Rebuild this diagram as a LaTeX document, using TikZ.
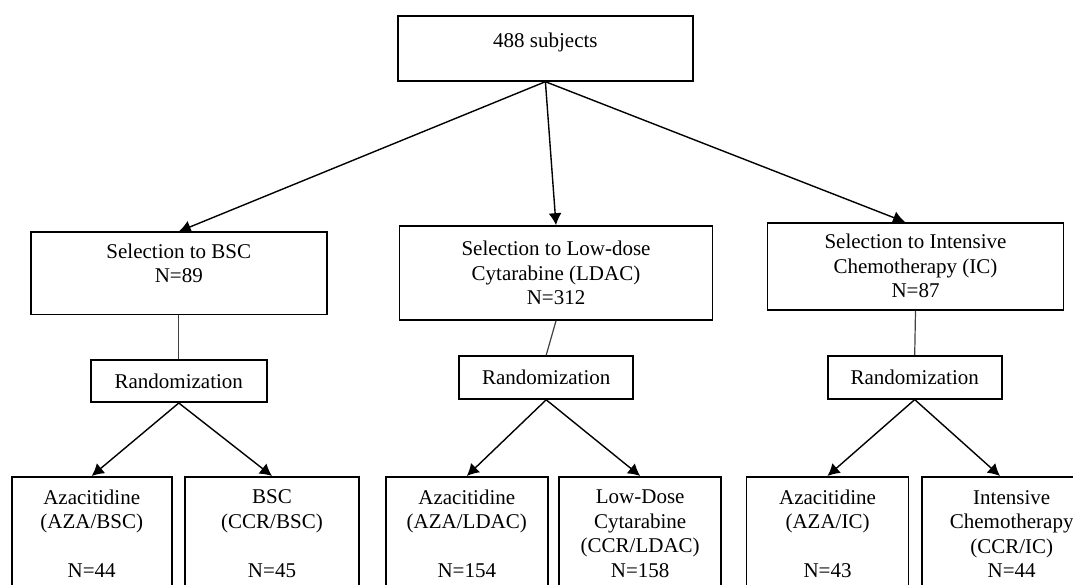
\documentclass[tikz,border=0pt]{standalone}
\usepackage{fontspec}
\setmainfont{Liberation Serif}
\usetikzlibrary{arrows.meta,calc}
\begin{document}
\begin{tikzpicture}[x=1pt,y=-1pt,
  box/.style={draw,line width=1.6pt,align=center,inner sep=2pt,font=\fontsize{21}{24.5}\selectfont},
  leaf/.style={box,anchor=north,minimum height=114pt},
  arr/.style={line width=1.4pt,-{Latex[length=12pt,width=13pt]}},
  link/.style={line width=1.2pt,black!75}]
\useasboundingbox (0,0) rectangle (1073,585);
\clip (0,0) rectangle (1073,585);
\node[box,minimum width=295pt,minimum height=65pt,text depth=17pt] (subj) at (545.4,48.4) {488 subjects};
% selection
\node[box,minimum width=296pt,minimum height=82pt,text depth=20pt] (bsc) at (178.8,273.3) {Selection to BSC\\N=89};
\node[box,minimum width=313pt,minimum height=94pt] (ldac) at (556,273) {Selection to Low-dose\\Cytarabine (LDAC)\\N=312};
\node[box,minimum width=296pt,minimum height=87pt] (ic) at (915.5,266.3) {Selection to Intensive\\Chemotherapy (IC)\\N=87};
% randomization
\node[box,minimum width=176pt,minimum height=42pt] (randB) at (178.8,381.2) {Randomization};
\node[box,minimum width=174pt,minimum height=43pt] (randL) at (546.2,377.5) {Randomization};
\node[box,minimum width=174pt,minimum height=43pt] (randI) at (914.7,377.3) {Randomization};
% arms
\node[leaf,minimum width=160pt] (azaB) at (91.7,476) {Azacitidine\\(AZA/BSC)\\\mbox{}\\N=44};
\node[leaf,minimum width=174pt] (ccrB) at (272,476) {BSC\\(CCR/BSC)\\\mbox{}\\N=45};
\node[leaf,minimum width=162pt] (azaL) at (466.8,476) {Azacitidine\\(AZA/LDAC)\\\mbox{}\\N=154};
\node[leaf,minimum width=162pt] (ccrL) at (640.2,476) {Low-Dose\\Cytarabine\\(CCR/LDAC)\\N=158};
\node[leaf,minimum width=162pt] (azaI) at (827.5,476) {Azacitidine\\(AZA/IC)\\\mbox{}\\N=43};
\node[leaf,minimum width=180pt] (ccrI) at (1011.7,476) {Intensive\\Chemotherapy\\(CCR/IC)\\N=44};

\draw[arr] (subj.south) -- (bsc.north);
\draw[arr] (subj.south) -- (ldac.north);
\draw[arr] (subj.south) -- ($(ic.north)+(-10.5,0)$);
\draw[link] (bsc.south) -- (randB.north);
\draw[link] (ldac.south) -- (randL.north);
\draw[link] (ic.south) -- (randI.north);
\draw[arr] (randB.south) -- (azaB.north);
\draw[arr] (randB.south) -- (ccrB.north);
\draw[arr] (randL.south) -- (azaL.north);
\draw[arr] (randL.south) -- (ccrL.north);
\draw[arr] (randI.south) -- (azaI.north);
\draw[arr] (randI.south) -- ($(ccrI.north)+(-11.7,0)$);
\end{tikzpicture}
\end{document}
